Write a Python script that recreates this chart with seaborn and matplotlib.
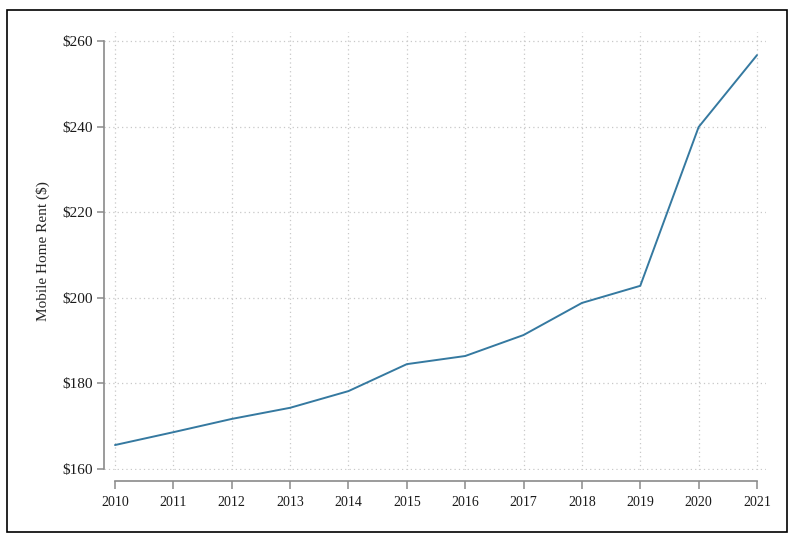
import numpy as np
import pandas as pd
import matplotlib
matplotlib.use('Agg')
import matplotlib.pyplot as plt
import seaborn as sns
from matplotlib.patches import Rectangle

# Annual mobile home rent
years = [2010, 2011, 2012, 2013, 2014, 2015, 2016, 2017, 2018, 2019, 2020, 2021]
rent = [165.6, 168.6, 171.7, 174.3, 178.2, 184.5, 186.4, 191.3, 198.8, 202.8, 239.9, 256.7]
y_ticks = [160, 180, 200, 220, 240, 260]
y_labels = ['$160', '$180', '$200', '$220', '$240', '$260']

df = pd.DataFrame({'year': years, 'rent': rent})

sns.set_style('white')
plt.rcParams['font.family'] = ['Liberation Serif', 'DejaVu Serif']

W, H = 794, 542
fig = plt.figure(figsize=(W / 100, H / 100), dpi=100)

# axes box in pixels (left, top, right, bottom)
L, T, R, B = 104, 32, 766, 470
ax = fig.add_axes([L / W, 1 - B / H, (R - L) / W, (B - T) / H])

sns.lineplot(data=df, x='year', y='rent', ax=ax, color='#3579a0', linewidth=1.4)

px_year = (757 - 115) / 11
px_unit = (469 - 41) / 100
ax.set_xlim(2010 - 11 / px_year, 2021 + 9 / px_year)
ax.set_ylim(160 - 1 / px_unit, 260 + 9 / px_unit)

ax.set_xticks(years)
ax.set_xticklabels([str(y) for y in years], fontsize=11)
ax.set_yticks(y_ticks)
ax.set_yticklabels(y_labels, fontsize=11)
ax.set_xlabel('')
ax.set_ylabel('Mobile Home Rent ($)', fontsize=11, labelpad=9)

ax.grid(True, linestyle=(0, (1, 2.5)), color='#c8c8c8', linewidth=0.9)
ax.set_axisbelow(True)

for s in ['top', 'right']:
    ax.spines[s].set_visible(False)
ax.spines['left'].set_bounds(160, 260)
ax.spines['bottom'].set_bounds(2010, 2021)
ax.spines['bottom'].set_position(('outward', 8))
for s in ['left', 'bottom']:
    ax.spines[s].set_color('#8a8a8a')
    ax.spines[s].set_linewidth(1.2)
ax.tick_params(axis='both', which='both', bottom=True, left=True, length=5,
               width=1.1, color='#8a8a8a', labelcolor='#1a1a1a', pad=3)
ax.tick_params(axis='x', length=6, pad=5)

# outer frame around the whole figure
fig.patches.append(Rectangle((7 / W, 1 - 532 / H), 780 / W, 522 / H,
                             transform=fig.transFigure, fill=False,
                             edgecolor='black', linewidth=1.2))

fig.savefig('out.png', dpi=100, facecolor='white')
